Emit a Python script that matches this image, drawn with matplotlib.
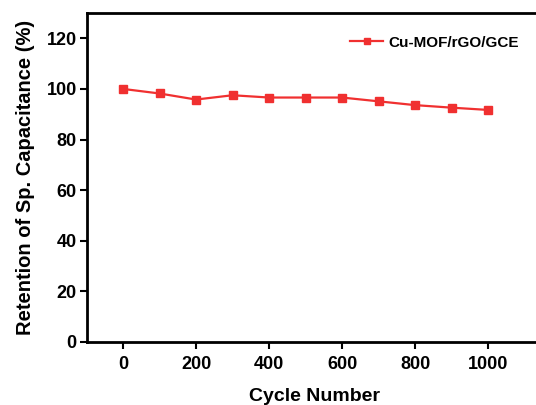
import numpy as np
import matplotlib
matplotlib.use("Agg")
import matplotlib.pyplot as plt

cycles = [0, 100, 200, 300, 400, 500, 600, 700, 800, 900, 1000]
retention = [100, 98.2, 95.8, 97.5, 96.6, 96.6, 96.6, 95.1, 93.6, 92.6, 91.7]
xticks = [0, 200, 400, 600, 800, 1000]
yticks = [0, 20, 40, 60, 80, 100, 120]

plt.rcParams['font.family'] = ['Liberation Sans', 'DejaVu Sans']
plt.rcParams['font.weight'] = 'bold'

fig = plt.figure(figsize=(5.36, 4.05), dpi=100)
W, H = 536, 405
left, right, bottom, top = 86.5, 542.75, 342, 13
ax = fig.add_axes([left / W, 1 - bottom / H, (right - left) / W, (bottom - top) / H])

ax.plot(cycles, retention, 's-', color='#f03030', lw=1.6, ms=5.2, label='Cu-MOF/rGO/GCE')

ax.set_xlim(-100, 1150)
ax.set_ylim(0, 130)
ax.set_xticks(xticks)
ax.set_yticks(yticks)
for s in ax.spines.values():
    s.set_linewidth(2)
ax.tick_params(direction='out', width=1.5, length=5, labelsize=13)
ax.tick_params(axis='x', pad=5)
ax.tick_params(axis='y', pad=2)
for lab in ax.get_xticklabels() + ax.get_yticklabels():
    lab.set_fontweight('bold')

ax.set_xlabel('Cycle Number', fontsize=14, fontweight='bold', labelpad=11)
ax.set_ylabel('Retention of Sp. Capacitance (%)', fontsize=14.5, fontweight='bold', labelpad=8)

leg = ax.legend(loc='upper left', bbox_to_anchor=((336 - left) / (right - left), 1 - 9 / (bottom - top)),
                frameon=False, fontsize=11, handlelength=2.2, handletextpad=0.3, markerscale=0.8)
for t in leg.get_texts():
    t.set_fontweight('bold')

fig.savefig('out.png', dpi=100)
